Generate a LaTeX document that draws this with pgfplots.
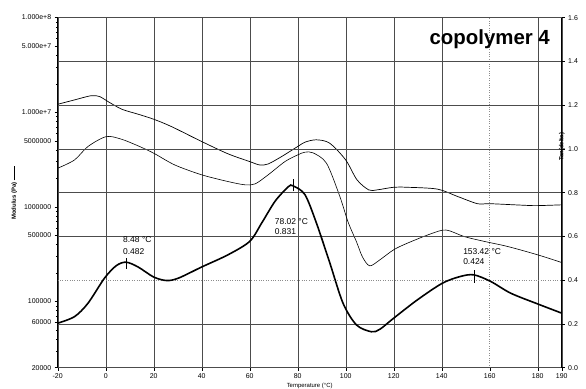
\documentclass[border=0pt]{standalone}
\usepackage{pgfplots}
\pgfplotsset{compat=1.18}
\usepackage{fontspec}
\setmainfont{Liberation Sans}

\pgfplotstableread{
x G
-20 1.213e7
-13 1.349e7
-6 1.496e7
-2.5 1.462e7
1 1.294e7
6.7 1.076e7
13.5 9.53e6
20 8.43e6
27.4 7.05e6
40 4.90e6
51 3.63e6
60 3.01e6
64.2 2.77e6
67.7 2.84e6
73.3 3.40e6
80 4.34e6
83 4.82e6
87.7 5.11e6
93.3 4.71e6
100 3.13e6
104.7 1.93e6
109.6 1.51e6
113 1.51e6
120 1.61e6
125.7 1.61e6
138.2 1.54e6
146.5 1.29e6
154.9 1.08e6
160 1.08e6
174 1.04e6
179.6 1.03e6
190 1.05e6
}\Gp

\pgfplotstableread{
x G
-20 2.56e6
-13 3.13e6
-7.4 4.34e6
0.2 5.52e6
6.5 5.19e6
13.5 4.41e6
20 3.69e6
28.8 2.77e6
40 2.18e6
51 1.85e6
58 1.71e6
62.3 1.75e6
67.7 2.18e6
74.7 3.01e6
80 3.54e6
83 3.78e6
86.4 3.72e6
92 2.89e6
97.5 1.30e6
101 6.9e5
104.5 4.27e5
107 2.95e5
110 2.38e5
114.2 2.75e5
120 3.52e5
125.8 4.14e5
135.5 5.19e5
141.8 5.69e5
149.4 4.85e5
157.8 4.31e5
167.5 3.81e5
180 3.11e5
190 2.58e5
}\Gpp

\pgfplotstableread{
x t
-20 0.203
-13 0.233
-7.4 0.294
-0.5 0.409
4.4 0.466
8.48 0.482
13.5 0.46
20 0.414
25.4 0.398
30.3 0.409
40 0.46
51 0.516
60 0.577
65 0.661
70.6 0.761
76.1 0.827
78.02 0.831
83 0.791
87.8 0.661
93.4 0.478
98.9 0.294
104.5 0.195
110.7 0.164
114.2 0.175
120 0.226
129.9 0.310
140.3 0.386
147.9 0.417
153.42 0.424
160.4 0.394
168.8 0.34
180 0.291
190 0.249
}\Tan

\begin{document}
\begin{tikzpicture}
\pgfplotsset{
  base/.style={width=504bp, height=350bp, scale only axis,
    xmin=-20, xmax=190,
    tick label style={font=\fontsize{7}{8}\selectfont},
    /pgf/number format/assume math mode=true,
    tick align=outside, major tick length=3bp, minor tick length=1.8bp,
    tick style={black, line width=0.4pt},
    axis line style={black, line width=0.5pt},
    grid style={black!70, line width=0.4pt},
  }
}
\begin{axis}[base, ymode=log, ymin=20000, ymax=1e8,
  tick pos=left,
  xtick={-20,0,20,40,60,80,100,120,140,180,190},
  extra x ticks={160},
  extra x tick style={grid style={black!45, dotted, line width=0.5pt}},
  xmajorgrids,
  ytick={20000,60000,100000,500000,1000000,5000000,10000000,50000000,100000000},
  yticklabels={20000,60000,100000,500000,1000000,5000000,1.000e+7,5.000e+7,1.000e+8},
  minor ytick={30000,40000,50000,70000,80000,90000,200000,300000,400000,600000,700000,800000,900000,2000000,3000000,4000000,6000000,7000000,8000000,9000000,20000000,30000000,40000000,60000000,70000000,80000000,90000000},
  xlabel={Temperature (°C)},
  xlabel style={font=\fontsize{6}{7}\selectfont, yshift=9bp},
  ylabel={Modulus (Pa) \rule[0.6ex]{2.5em}{0.4pt}},
  ylabel style={font=\fontsize{6}{7}\selectfont\bfseries, yshift=-2bp},
]
\coordinate (LL) at (rel axis cs:0,0);
\coordinate (UR) at (rel axis cs:1,1);
\addplot[black, line width=0.7pt, smooth, tension=0.5] table[x=x, y=G] {\Gp};
\addplot[black, line width=0.6pt, smooth, tension=0.5] table[x=x, y=G] {\Gpp};
\end{axis}
\begin{axis}[base, ymin=0, ymax=1.6,
  axis y line*=right, axis x line=none,
  ytick={0,0.2,0.6,0.8,1.0,1.2,1.4,1.6},
  yticklabels={0.0,0.2,0.6,0.8,1.0,1.2,1.4,1.6},
  extra y ticks={0.4},
  extra y tick labels={0.4},
  extra y tick style={grid style={black!45, dotted, line width=0.6pt}},
  ymajorgrids,
  ylabel={Tan(delta) \rule[0.6ex]{2.5em}{0.4pt}},
  ylabel style={font=\fontsize{6}{7}\selectfont\bfseries, at={(rel axis cs:1,0.6)}, anchor=center, xshift=19bp},
]
\addplot[black, line width=1.6pt, smooth, tension=0.5] table[x=x, y=t] {\Tan};
\addplot[black, line width=0.5pt] coordinates {(8.48,0.451) (8.48,0.502)};
\addplot[black, line width=0.5pt] coordinates {(78.02,0.806) (78.02,0.863)};
\addplot[black, line width=0.5pt] coordinates {(153.42,0.389) (153.42,0.447)};
\node[anchor=base west, inner sep=0pt, font=\fontsize{8.5}{9}\selectfont] at (axis cs:7.2,0.570) {8.48 °C};
\node[anchor=base west, inner sep=0pt, font=\fontsize{8.5}{9}\selectfont] at (axis cs:7.2,0.516) {0.482};
\node[anchor=base west, inner sep=0pt, font=\fontsize{8.5}{9}\selectfont] at (axis cs:70.4,0.654) {78.02 °C};
\node[anchor=base west, inner sep=0pt, font=\fontsize{8.5}{9}\selectfont] at (axis cs:70.4,0.608) {0.831};
\node[anchor=base west, inner sep=0pt, font=\fontsize{8.5}{9}\selectfont] at (axis cs:148.9,0.516) {153.42 °C};
\node[anchor=base west, inner sep=0pt, font=\fontsize{8.5}{9}\selectfont] at (axis cs:148.9,0.470) {0.424};
\node[font=\fontsize{20.5}{22}\selectfont\bfseries] at (axis cs:160,1.50) {copolymer 4};
\end{axis}
\pgfresetboundingbox
\path[use as bounding box] ([shift={(-57.7bp,-21.3bp)}]LL) rectangle ([shift={(24.3bp,17.6bp)}]UR);
\end{tikzpicture}
\end{document}
